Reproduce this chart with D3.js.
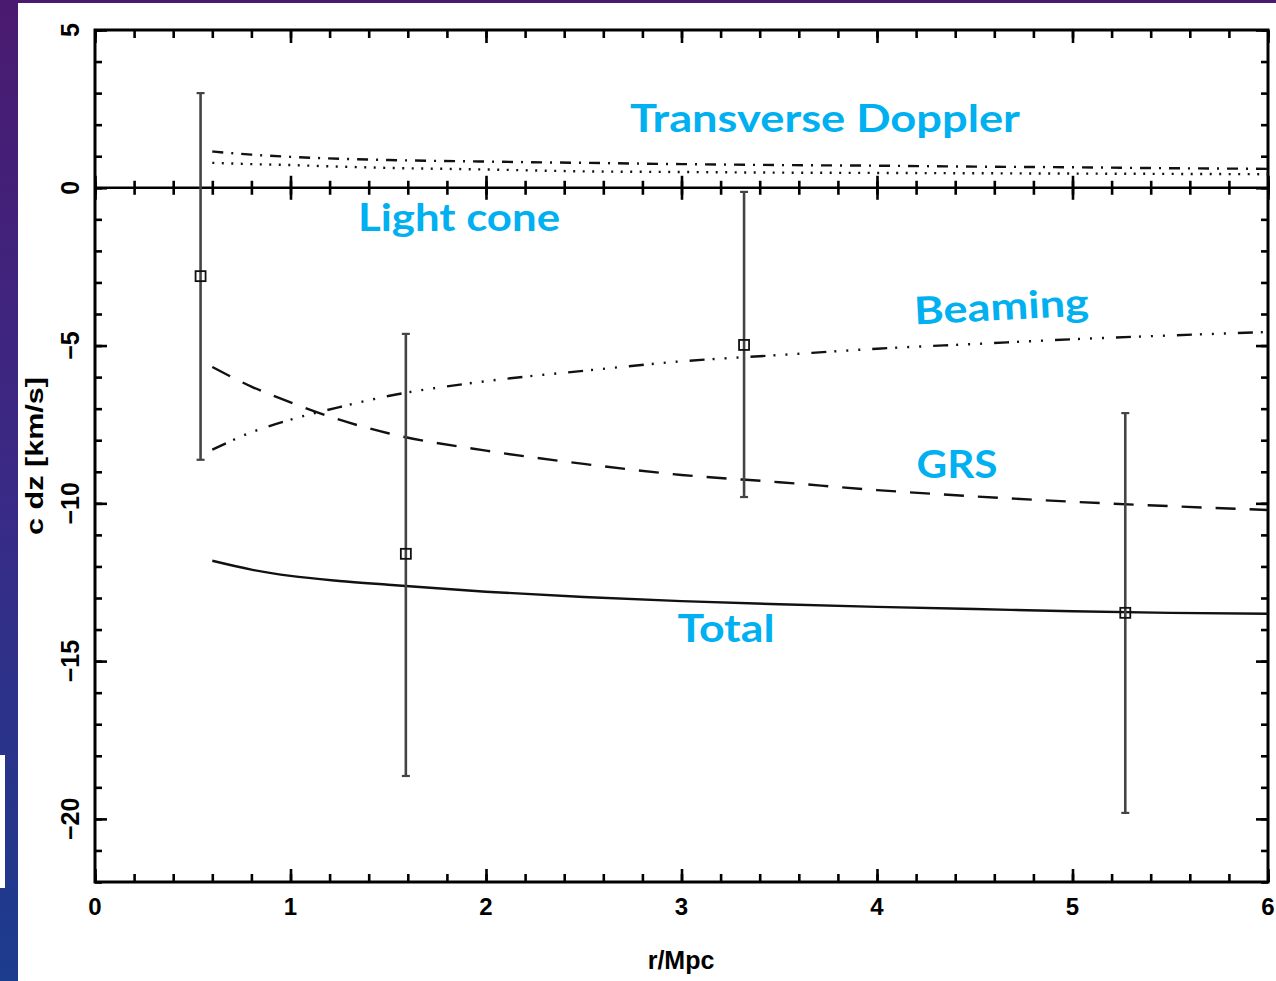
<!DOCTYPE html>
<html>
<head>
<meta charset="utf-8">
<script src="https://cdn.jsdelivr.net/npm/d3@7"></script>
<style>
  html, body { margin: 0; padding: 0; background: #fff; }
  svg { display: block; }
  .tick-label { font-family: "Liberation Sans", Arial, Helvetica, sans-serif; font-weight: bold; fill: #000; }
  .annot { font-family: Lato, "Open Sans", sans-serif; font-weight: 700; fill: #00b0f0; }
</style>
</head>
<body>
<svg id="chart" width="1276" height="981"></svg>
<script>
// Radius from the cluster centre (Mpc) at which the model curves are sampled
const rModel = [0.6, 0.8, 1.0, 1.25, 1.5, 2.0, 2.5, 3.0, 3.5, 4.0, 4.5, 5.0, 5.5, 6.0];

// Model contributions to c dz (km/s)
const grs       = [-5.68, -6.30, -6.80, -7.35, -7.78, -8.33, -8.75, -9.10, -9.33, -9.58, -9.78, -9.95, -10.09, -10.21];
const beaming   = [-8.30, -7.75, -7.35, -6.95, -6.60, -6.13, -5.80, -5.50, -5.30, -5.10, -4.95, -4.80, -4.68, -4.57];
const total     = [-11.82, -12.10, -12.30, -12.46, -12.58, -12.80, -12.97, -13.10, -13.20, -13.28, -13.35, -13.42, -13.47, -13.50];
const transDopp = [1.15, 1.05, 0.98, 0.92, 0.88, 0.83, 0.79, 0.75, 0.72, 0.70, 0.67, 0.65, 0.62, 0.60];
const lightCone = [0.79, 0.75, 0.72, 0.67, 0.63, 0.58, 0.52, 0.50, 0.48, 0.47, 0.46, 0.45, 0.44, 0.43];

// Binned measurements with 1-sigma error bars
const obsR    = [0.54, 1.59, 3.32, 5.27];
const obsDz   = [-2.8, -11.6, -4.98, -13.47];
const obsHigh = [3.0, -4.63, -0.13, -7.14];
const obsLow  = [-8.62, -18.64, -9.8, -19.81];

// Axis ticks
const xMajor = [0, 1, 2, 3, 4, 5, 6];
const xMinor = d3.range(0, 6.001, 0.2);
const yMajor = [5, 0, -5, -10, -15, -20];
const yMinor = d3.range(-22, 5.001, 1);

const svg = d3.select("#chart");
const W = 1276, H = 981;

// Slide background
const defs = svg.append("defs");
const grad = defs.append("linearGradient").attr("id", "slideBg")
  .attr("x1", 0).attr("y1", 0).attr("x2", 0).attr("y2", 1);
grad.append("stop").attr("offset", "0%").attr("stop-color", "#4a1a70");
grad.append("stop").attr("offset", "50%").attr("stop-color", "#392a86");
grad.append("stop").attr("offset", "100%").attr("stop-color", "#1c3c8e");
svg.append("rect").attr("width", W).attr("height", H).attr("fill", "url(#slideBg)");
svg.append("rect").attr("x", 18).attr("y", 3).attr("width", W - 18).attr("height", H - 3).attr("fill", "#fff");
svg.append("rect").attr("x", 0).attr("y", 755).attr("width", 5).attr("height", 133).attr("fill", "#fff");

// Scales
const x = d3.scaleLinear().domain([0, 6]).range([95, 1268]);
const y = d3.scaleLinear().domain([-22, 5]).range([882, 30]);

const g = svg.append("g");

function tickAxis(axisFn, scale, values, size, transform) {
  const a = g.append("g").attr("transform", transform)
    .call(axisFn(scale).tickValues(values).tickSize(size).tickSizeOuter(0).tickFormat(""));
  a.select(".domain").remove();
  a.selectAll(".tick line").attr("stroke", "#000").attr("stroke-width", 2.6);
  return a;
}

// Frame ticks (pointing inward)
tickAxis(d3.axisBottom, x, xMinor, -8, `translate(0,${y(-22)})`);
tickAxis(d3.axisBottom, x, xMajor, -13, `translate(0,${y(-22)})`);
tickAxis(d3.axisTop, x, xMinor, -8, `translate(0,${y(5)})`);
tickAxis(d3.axisTop, x, xMajor, -13, `translate(0,${y(5)})`);
tickAxis(d3.axisLeft, y, yMinor, -7, `translate(${x(0)},0)`);
tickAxis(d3.axisLeft, y, yMajor, -12, `translate(${x(0)},0)`);
tickAxis(d3.axisRight, y, yMinor, -7, `translate(${x(6)},0)`);
tickAxis(d3.axisRight, y, yMajor, -12, `translate(${x(6)},0)`);

// Zero line with ticks crossing it
tickAxis(d3.axisBottom, x, xMinor, 7, `translate(0,${y(0)})`);
tickAxis(d3.axisTop, x, xMinor, 7, `translate(0,${y(0)})`);
tickAxis(d3.axisBottom, x, xMajor, 12, `translate(0,${y(0)})`);
tickAxis(d3.axisTop, x, xMajor, 12, `translate(0,${y(0)})`);
g.append("line")
  .attr("x1", x(0)).attr("x2", x(6)).attr("y1", y(0)).attr("y2", y(0))
  .attr("stroke", "#000").attr("stroke-width", 2.4);

// Frame
g.append("rect")
  .attr("x", x(0)).attr("y", y(5))
  .attr("width", x(6) - x(0)).attr("height", y(-22) - y(5))
  .attr("fill", "none").attr("stroke", "#000").attr("stroke-width", 3);

// Tick labels
g.selectAll(".xlab").data(xMajor).join("text")
  .attr("class", "tick-label")
  .attr("x", d => x(d)).attr("y", 915)
  .attr("text-anchor", "middle").attr("font-size", 24)
  .text(d => d);

g.selectAll(".ylab").data(yMajor).join("text")
  .attr("class", "tick-label")
  .attr("transform", d => `translate(79,${y(d)}) rotate(-90)`)
  .attr("text-anchor", "middle").attr("font-size", 25)
  .text(d => d < 0 ? "\u2212" + Math.abs(d) : d);

// Axis titles
g.append("text").attr("class", "tick-label")
  .attr("x", 681).attr("y", 969).attr("text-anchor", "middle").attr("font-size", 25)
  .text("r/Mpc");
g.append("text").attr("class", "tick-label")
  .attr("transform", `translate(43,456) rotate(-90)`)
  .attr("text-anchor", "middle").attr("font-size", 23)
  .attr("textLength", 158).attr("lengthAdjust", "spacingAndGlyphs")
  .text("c dz [km/s]");

// Model curves
const curves = [
  { values: total,     dash: null },
  { values: grs,       dash: "20 14" },
  { values: beaming,   dash: "15 8 2 10 2 10 2 12" },
  { values: transDopp, dash: "11 8 2 8" },
  { values: lightCone, dash: "2 7.5" }
];
const line = d3.line()
  .x((d, i) => x(rModel[i]))
  .y(d => y(d))
  .curve(d3.curveMonotoneX);
g.selectAll(".model").data(curves).join("path")
  .attr("d", d => line(d.values))
  .attr("fill", "none")
  .attr("stroke", "#111")
  .attr("stroke-width", 2.4)
  .attr("stroke-dasharray", d => d.dash);

// Error bars
const obs = obsR.map((r, i) => ({ r, dz: obsDz[i], hi: obsHigh[i], lo: obsLow[i] }));
const eb = g.selectAll(".obs").data(obs).join("g");
eb.append("line")
  .attr("x1", d => x(d.r)).attr("x2", d => x(d.r))
  .attr("y1", d => y(d.hi)).attr("y2", d => y(d.lo))
  .attr("stroke", "#444").attr("stroke-width", 2.6);
["hi", "lo"].forEach(k => {
  eb.append("line")
    .attr("x1", d => x(d.r) - 4).attr("x2", d => x(d.r) + 4)
    .attr("y1", d => y(d[k])).attr("y2", d => y(d[k]))
    .attr("stroke", "#444").attr("stroke-width", 2.2);
});
eb.append("rect")
  .attr("x", d => x(d.r) - 5).attr("y", d => y(d.dz) - 5)
  .attr("width", 10).attr("height", 10)
  .attr("fill", "none").attr("stroke", "#111").attr("stroke-width", 1.8);

// Annotations
const notes = [
  { text: "Transverse Doppler", x: 825, y: 132, rot: 0, w: 390 },
  { text: "Light cone", x: 459, y: 231, rot: 0, w: 202 },
  { text: "Beaming", x: 1002, y: 320, rot: -3, w: 175 },
  { text: "GRS", x: 957, y: 478, rot: 0, w: 81 },
  { text: "Total", x: 726, y: 642, rot: 0, w: 97 }
];
g.selectAll(".annot").data(notes).join("text")
  .attr("class", "annot")
  .attr("transform", d => `translate(${d.x},${d.y}) rotate(${d.rot})`)
  .attr("text-anchor", "middle")
  .attr("font-size", 38)
  .attr("textLength", d => d.w)
  .attr("lengthAdjust", "spacingAndGlyphs")
  .text(d => d.text);
</script>
</body>
</html>
